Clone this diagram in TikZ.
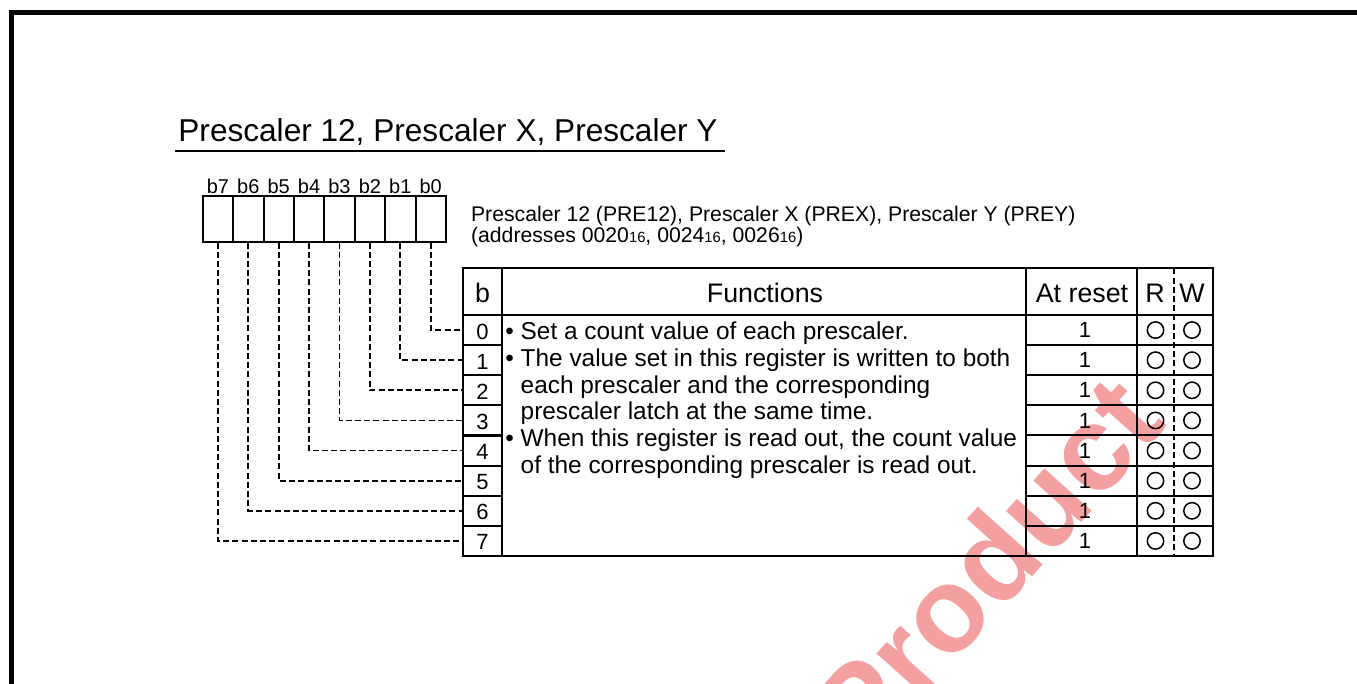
\documentclass[tikz,border=0pt]{standalone}
\usepackage{fontspec}
\setmainfont{Liberation Sans}
\usetikzlibrary{positioning,calc}
\definecolor{wmred}{RGB}{245,160,160}
\newcommand\hx{{\fontsize{7.4}{8}\selectfont 16}}

\begin{document}
\begin{tikzpicture}[x=.5pt,y=-.5pt,
  font=\fontsize{12.2}{13.33}\selectfont,
  frame/.style={line width=2.6pt},
  title/.style={font=\fontsize{15.8}{18}\selectfont,anchor=base west,inner sep=0pt},
  bitcell/.style={draw,line width=1pt,minimum width=15.2pt,minimum height=22.8pt,inner sep=0pt},
  bitname/.style={font=\fontsize{10}{12}\selectfont,anchor=base,inner sep=0pt},
  addr/.style={font=\fontsize{10.6}{12}\selectfont,anchor=base west,inner sep=0pt},
  bcell/.style={draw,line width=1pt,minimum width=19.2pt,minimum height=15.06pt,inner sep=0pt,
    font=\fontsize{11}{12}\selectfont,text height=9pt,text depth=0pt},
  head/.style={font=\fontsize{13.4}{15}\selectfont,anchor=base,inner sep=0pt},
  cellnum/.style={font=\fontsize{11}{12}\selectfont,inner sep=0pt},
  rwmark/.style={draw,circle,line width=.75pt,minimum size=8.2pt,inner sep=0pt},
  grid/.style={line width=1pt},
  link/.style={dash pattern=on 3pt off 1.6pt,line width=.85pt},
  wmark/.style={font=\fontsize{60}{60}\selectfont\bfseries,text=wmred,rotate=48}]

\useasboundingbox (0,0) rectangle (1357,684);
\clip (0,0) rectangle (1357,684);
\node[wmark] (wm) at (985,565) {Product};
\draw[frame] (11.5,690) |- (1365,12.5);

\node[title] (title) at (178,142) {Prescaler 12, Prescaler X, Prescaler Y};
\draw[line width=.7pt] (175,151) -- (725,151);

\foreach \i in {0,...,7} {
  \node[bitcell] (bit\i) at ({430.7-30.4*\i},218.9) {};
  \node[bitname] at ({430.7-30.4*\i},193.3) {b\i};
}

\node[addr] (regname) at (470.7,221.7) {Prescaler 12 (PRE12), Prescaler X (PREX), Prescaler Y (PREY)};
\node[addr] (regaddr) at (470.7,243) {(addresses 0020\hx, 0024\hx, 0026\hx)};

\draw[grid] (463.3,268.5) rectangle (1212.7,556);
\draw[grid] (463.3,315) -- (1212.7,315);
\foreach \x in {501.7,1026,1137.3}
  \draw[grid] (\x,268.5) -- (\x,556);
\draw[link,line width=.6pt] (1174,268.5) -- (1174,556);
\foreach \i in {1,...,7}
  \draw[grid] (1026,{315+30.125*\i}) -- (1212.7,{315+30.125*\i});

\node[head] (hb) at (482.5,303) {b};
\node[head] (hfn) at (765,303) {Functions};
\node[head] (hrst) at (1082,303) {At reset};
\node[head] (hr) at (1155,303) {R};
\node[head] (hw) at (1192,303) {W};

\foreach \i in {0,...,7} {
  \node[bcell] (row\i) at (482.5,{315+30.125*(\i+.5)}) {\i};
  \node[cellnum] (rst\i) at (1085,{315+30.125*(\i+.5)}) {1};
  \node[rwmark] (rd\i) at (1155.5,{315+30.125*(\i+.5)}) {};
  \node[rwmark] (wr\i) at (1192,{315+30.125*(\i+.5)}) {};
  \draw[link] (bit\i.south) |- (row\i.west);
}

\node[anchor=base west,align=left,inner sep=0pt] (fn) at (505,473.3)
  {\textbullet\ Set a count value of each prescaler.\\
   \textbullet\ The value set in this register is written to both\\
   \hphantom{\textbullet\ }each prescaler and the corresponding\\
   \hphantom{\textbullet\ }prescaler latch at the same time.\\
   \textbullet\ When this register is read out, the count value\\
   \hphantom{\textbullet\ }of the corresponding prescaler is read out.};

\end{tikzpicture}
\end{document}
